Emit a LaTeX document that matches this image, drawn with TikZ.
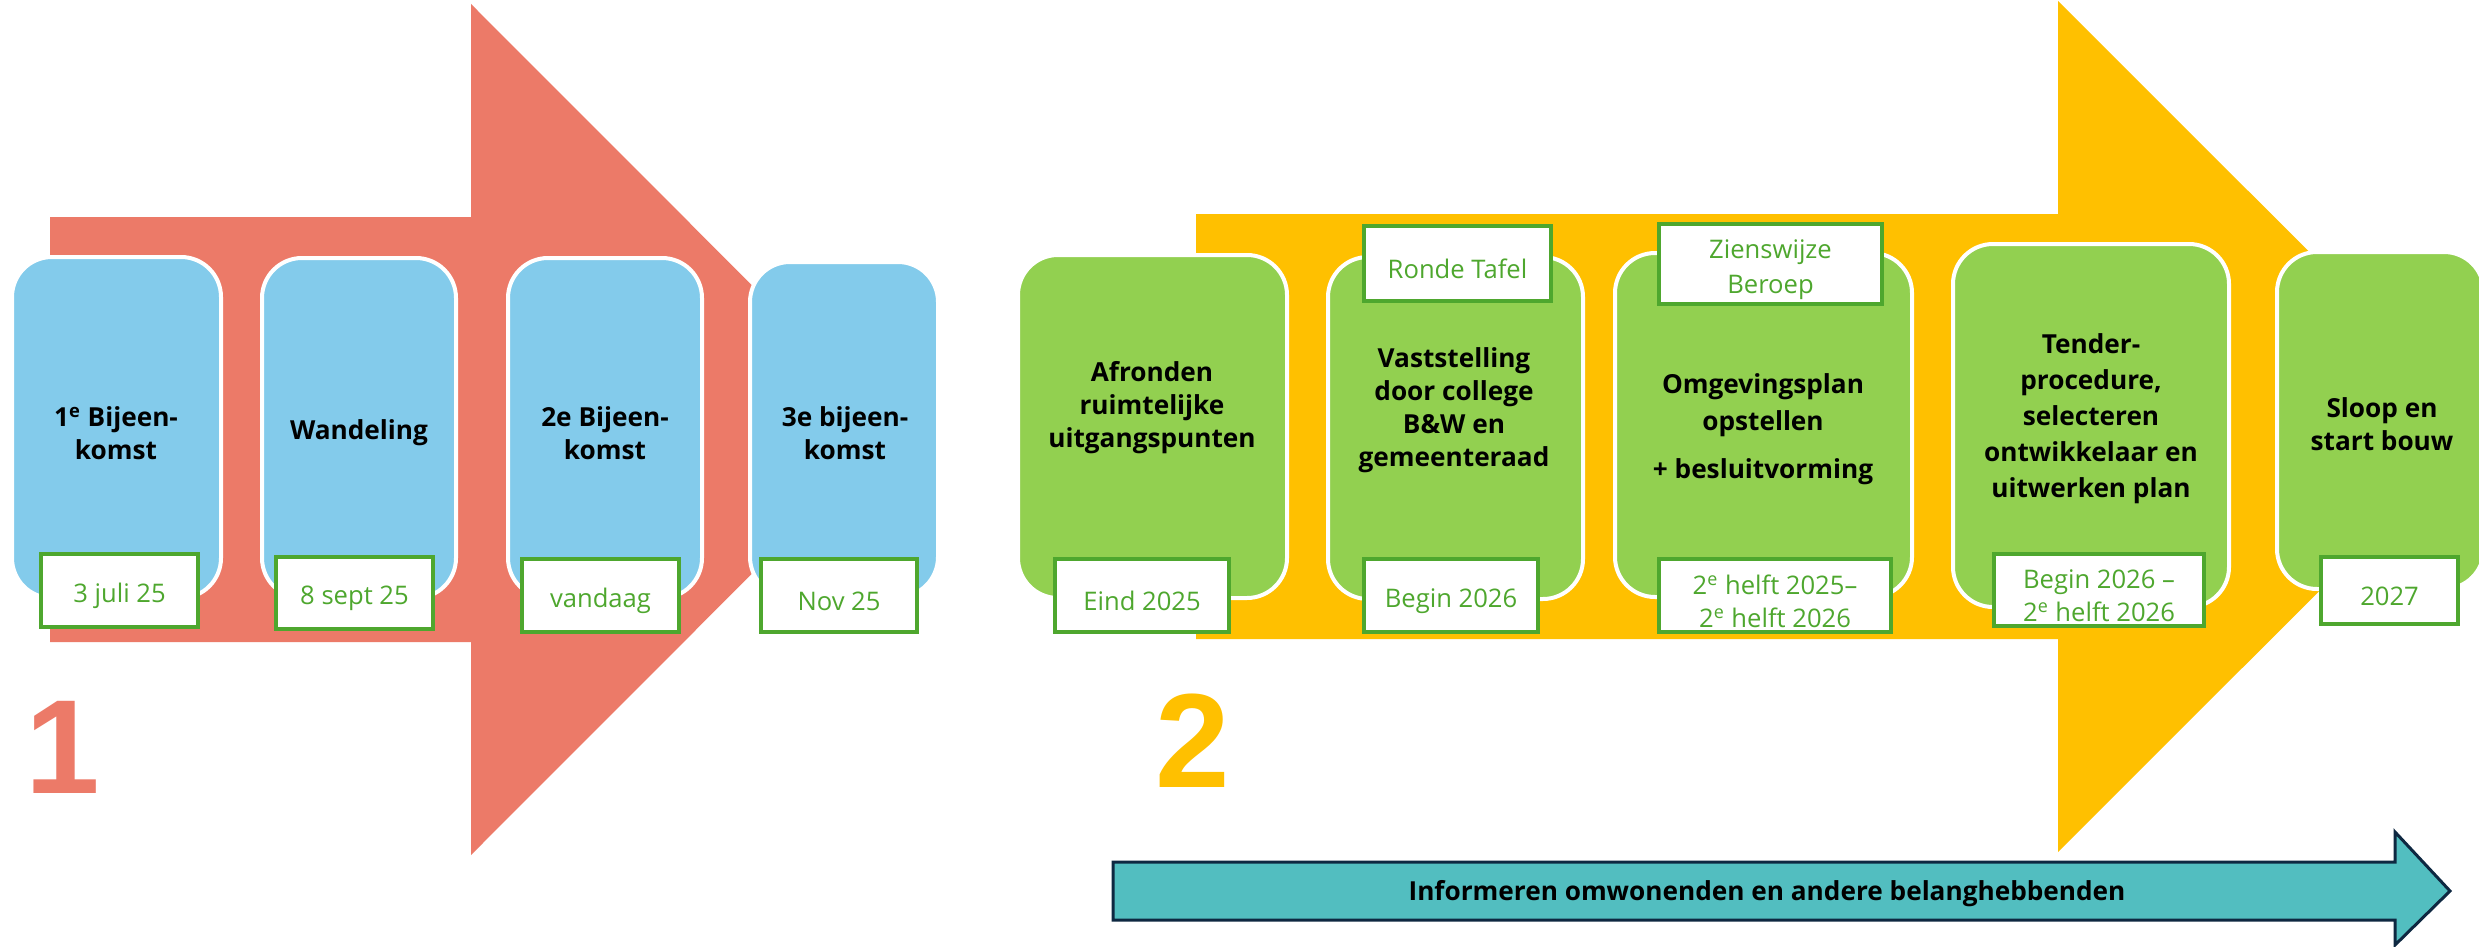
\documentclass[tikz,border=0pt]{standalone}
\usepackage{fontspec}
\setmainfont{Open Sans}
\newfontfamily\digitfont{Liberation Sans}
\usetikzlibrary{fit}
\definecolor{redarrow}{RGB}{236,122,104}
\definecolor{yellowarrow}{RGB}{255,192,0}
\definecolor{bluebox}{RGB}{131,203,235}
\definecolor{greenbox}{RGB}{146,208,80}
\definecolor{labelgreen}{RGB}{78,167,46}
\definecolor{tealarrow}{RGB}{82,190,192}
\definecolor{navyedge}{RGB}{14,40,65}
\begin{document}
\begin{tikzpicture}[x=0.5pt,y=-0.5pt,
  stagebox/.style={draw=white, line width=2pt, rounded corners=20pt, inner sep=0pt},
  bluestage/.style={stagebox, fill=bluebox},
  greenstage/.style={stagebox, fill=greenbox},
  datebox/.style={draw=labelgreen, line width=2pt, fill=white, inner sep=0pt},
  datetext/.style={text=labelgreen, font=\fontsize{12.8}{16.3}\selectfont, align=center, inner sep=0pt, yshift=-2.8pt},
  stagetext/.style={font=\bfseries\fontsize{13.1}{16.5}\selectfont, align=center, text=black, inner sep=0pt},
  bignum/.style={font=\digitfont\bfseries\fontsize{67}{67}\selectfont, inner sep=0pt, anchor=base}]
\useasboundingbox (0,0) rectangle (2479,947);
\fill[white] (0,0) rectangle (2479,947);

% phase 1 arrow
\fill[redarrow] (50,217) -- (471,217) -- (471,4) -- (896,429.5) -- (471,855) -- (471,642) -- (50,642) -- cycle;

\node[bluestage, fit={(12,257) (221,598)}] (b1) {};
\node[bluestage, fit={(262,258) (456,598)}] (b2) {};
\node[bluestage, fit={(508,258) (702,598)}] (b3) {};
\node[bluestage, fit={(750,262) (938,597)}] (b4) {};
\node[stagetext] (t1) at (116,433) {1\textsuperscript{e} Bijeen-\\komst};
\node[stagetext] (t2) at (359,433) {Wandeling};
\node[stagetext] (t3) at (605,433) {2e Bijeen-\\komst};
\node[stagetext] (t4) at (845,433) {3e bijeen-\\komst};
\node[datebox, fit={(41,554) (198,627)}, label={[datetext]center:3 juli 25}] (d1) {};
\node[datebox, fit={(276,557) (433,629)}, label={[datetext]center:8 sept 25}] (d2) {};
\node[datebox, fit={(522,559) (679,632)}, label={[datetext]center:vandaag}] (d3) {};
\node[datebox, fit={(761,559) (917,632)}, label={[datetext]center:Nov 25}] (d4) {};
\node[bignum, text=redarrow] (n1) at (63,793) {1};

% phase 2 arrow
\fill[yellowarrow] (1196,214) -- (2058,214) -- (2058,1) -- (2484,426.5) -- (2058,852) -- (2058,639) -- (1196,639) -- cycle;

\node[greenstage, fit={(1018,255) (1287,598)}] (g1) {};
\node[greenstage, fit={(1328,257) (1583,599)}] (g2) {};
\node[greenstage, fit={(1615,253) (1912,597)}] (g3) {};
\node[greenstage, fit={(1953,244) (2229,607)}] (g4) {};
\node[greenstage, fit={(2277,252) (2484,589)}] (g5) {};

\node[stagetext] (s1) at (1152,408) {Afronden\\ruimtelijke\\uitgangspunten};
\node[stagetext] (s2) at (1454,410) {Vaststelling\\door college\\B\&W en\\gemeenteraad};
\node[stagetext, font=\bfseries\fontsize{13.1}{18.5}\selectfont] (s3) at (1763,429) {Omgevingsplan\\opstellen\\[5.5pt]+ besluitvorming};
\node[stagetext, font=\bfseries\fontsize{13.1}{18}\selectfont] (s4) at (2091,419) {Tender-\\procedure,\\selecteren\\ontwikkelaar en\\uitwerken plan};
\node[stagetext] (s5) at (2382,424) {Sloop en\\start bouw};

\node[datebox, fit={(1364,226) (1551,301)}, label={[datetext]center:Ronde Tafel}] (r2) {};
\node[datebox, fit={(1659,224) (1882,304)}, label={[datetext, font=\fontsize{12.8}{17.3}\selectfont]center:{Zienswijze\\Beroep}}] (r3) {};
\node[datebox, fit={(1055,559) (1229,632)}, label={[datetext]center:Eind 2025}] (e1) {};
\node[datebox, fit={(1364,559) (1538,632)}, label={[datetext]center:Begin 2026}] (e2) {};
\node[datebox, fit={(1659,559) (1891,632)}, label={[datetext]center:{2\textsuperscript{e} helft 2025–\\2\textsuperscript{e} helft 2026}}] (e3) {};
\node[datebox, fit={(1994,554) (2204,626)}, label={[datetext]center:{Begin 2026 –\\2\textsuperscript{e} helft 2026}}] (e4) {};
\node[datebox, fit={(2321,557) (2458,624)}, label={[datetext]center:2027}] (e5) {};
\node[bignum, text=yellowarrow] (n2) at (1193,787) {2};

% information arrow
\filldraw[fill=tealarrow, draw=navyedge, line width=1.5pt, line join=miter]
  (1113,862) -- (2395,862) -- (2395,832) -- (2450,891) -- (2395,945) -- (2395,920) -- (1113,920) -- cycle;
\node[stagetext] (inf) at (1767,894) {Informeren omwonenden en andere belanghebbenden};
\end{tikzpicture}
\end{document}
